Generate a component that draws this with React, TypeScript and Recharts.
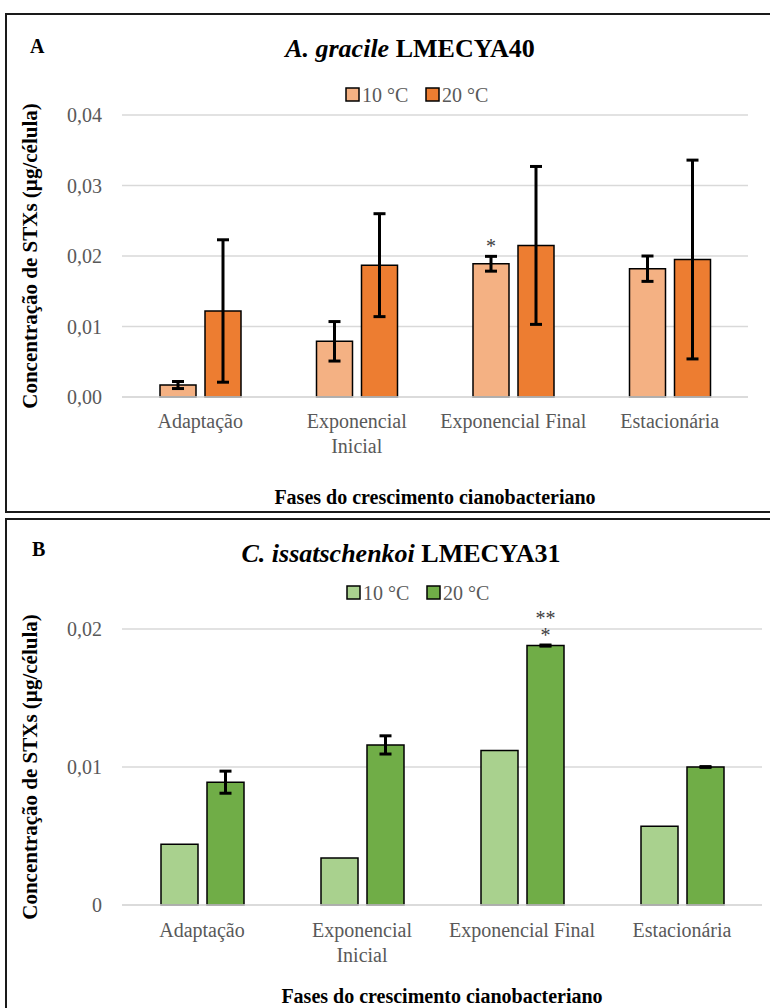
import React from 'react';
import { BarChart, Bar, XAxis, YAxis, CartesianGrid, ErrorBar, LabelList, Label } from 'recharts';

const FONT = "'Liberation Serif', 'Times New Roman', serif";

const categories = ['Adaptação', 'Exponencial Inicial', 'Exponencial Final', 'Estacionária'];
const categoryLines = [['Adaptação'], ['Exponencial', 'Inicial'], ['Exponencial Final'], ['Estacionária']];
const seriesNames = ['10 °C', '20 °C'];

// A. gracile LMECYA40
const gracile10 = [0.0017, 0.0079, 0.0189, 0.0182];
const gracile10Err = [0.0005, 0.0028, 0.00105, 0.0018];
const gracile20 = [0.0122, 0.0187, 0.0215, 0.0195];
const gracile20Err = [0.0101, 0.0073, 0.0112, 0.0141];
const gracileMarks10 = [[], [], ['*'], []];
const gracileTicks = [0, 0.01, 0.02, 0.03, 0.04];

// C. issatschenkoi LMECYA31
const issat10 = [0.0044, 0.0034, 0.0112, 0.0057];
const issat20 = [0.0089, 0.0116, 0.0188, 0.01];
const issat20Err = [0.0008, 0.00066, 0.00004, 0.00003];
const issatMarks20 = [[], [], ['**', '*'], []];
const issatTicks = [0, 0.01, 0.02];

const gracileData = categories.map((name, i) => ({
    name,
    t10: gracile10[i],
    t10Err: gracile10Err[i],
    t20: gracile20[i],
    t20Err: gracile20Err[i],
}));

const issatData = categories.map((name, i) => ({
    name,
    t10: issat10[i],
    t20: issat20[i],
    t20Err: issat20Err[i],
}));

const fmtComma = (v: number) => (v === 0 ? '0' : v.toFixed(2).replace('.', ','));
const fmtFixed = (v: number) => v.toFixed(2).replace('.', ',');

const CategoryTick = (props: any) => {
    const { x, y, payload, firstDy } = props;
    const idx = categories.indexOf(payload.value);
    const lines = categoryLines[idx] || [payload.value];
    return (
        <text x={x} y={y} textAnchor="middle" fill="#595959" fontSize={20} fontFamily={FONT}>
            {lines.map((s, i) => (
                <tspan key={i} x={x} dy={i === 0 ? firstDy : 25}>{s}</tspan>
            ))}
        </text>
    );
};

// significance asterisks drawn above a bar, one line per entry
const makeMarks = (marks: string[][], gap: number) => (props: any) => {
    const { x, y, width, index } = props;
    const lines = marks[index] || [];
    if (!lines.length) return null;
    return (
        <g>
            {lines.map((s, i) => (
                <text
                    key={i}
                    x={x + width / 2}
                    y={y - gap - (lines.length - 1 - i) * 17}
                    textAnchor="middle"
                    fill="#404040"
                    fontSize={20}
                    fontFamily={FONT}
                >
                    {s}
                </text>
            ))}
        </g>
    );
};

const YLabel = (props: any) => {
    const vb = props.viewBox;
    const cx = vb.x + 20;
    const cy = vb.y + vb.height / 2;
    return (
        <text
            transform={`translate(${cx}, ${cy}) rotate(-90)`}
            textAnchor="middle"
            dominantBaseline="central"
            fontSize={21}
            fontWeight="bold"
            fontFamily={FONT}
            fill="#000"
        >
            Concentração de STXs (µg/célula)
        </text>
    );
};

interface PanelProps {
    top: number;
    height: number;
    data: any[];
    colors: string[];
    ticks: number[];
    fmt: (v: number) => string;
    plotTop: number;
    plotBottom: number;
    plotRight: number;
    barSize: number;
    err10: boolean;
    marks10?: string[][];
    marks20?: string[][];
    firstDy: number;
}

function Panel(p: PanelProps) {
    const xAxisHeight = 60;
    const margin = {
        top: p.plotTop - p.top,
        left: 10,
        right: 770 - p.plotRight,
        bottom: p.height - (p.plotBottom - p.top) - xAxisHeight,
    };
    return (
        <div style={{ position: 'absolute', left: 0, top: p.top }}>
            <BarChart width={770} height={p.height} data={p.data} margin={margin} barSize={p.barSize} barGap={9}>
                <CartesianGrid vertical={false} stroke="#D9D9D9" strokeWidth={1.5} />
                <XAxis
                    dataKey="name"
                    height={xAxisHeight}
                    axisLine={{ stroke: '#D9D9D9', strokeWidth: 1.5 }}
                    tickLine={false}
                    tickSize={0}
                    tickMargin={0}
                    interval={0}
                    tick={<CategoryTick firstDy={p.firstDy} />}
                />
                <YAxis
                    width={112}
                    domain={[p.ticks[0], p.ticks[p.ticks.length - 1]]}
                    ticks={p.ticks}
                    tickFormatter={p.fmt}
                    axisLine={false}
                    tickLine={false}
                    tickSize={0}
                    tickMargin={20}
                    tick={{ fill: '#595959', fontSize: 20, fontFamily: FONT }}
                >
                    <Label content={<YLabel />} />
                </YAxis>
                <Bar dataKey="t10" fill={p.colors[0]} stroke="#000" strokeWidth={1.5} isAnimationActive={false}>
                    {p.err10 && (
                        <ErrorBar dataKey="t10Err" direction="y" width={6} strokeWidth={3} stroke="#000" isAnimationActive={false} />
                    )}
                    {p.marks10 && <LabelList dataKey="name" content={makeMarks(p.marks10, 11)} />}
                </Bar>
                <Bar dataKey="t20" fill={p.colors[1]} stroke="#000" strokeWidth={1.5} isAnimationActive={false}>
                    <ErrorBar dataKey="t20Err" direction="y" width={6} strokeWidth={3} stroke="#000" isAnimationActive={false} />
                    {p.marks20 && <LabelList dataKey="name" content={makeMarks(p.marks20, 4)} />}
                </Bar>
            </BarChart>
        </div>
    );
}

const gracileColors = ['#F4B183', '#ED7D31'];
const issatColors = ['#A9D18E', '#70AD47'];

function Legend2({ x, y, colors }: { x: number; y: number; colors: string[] }) {
    return (
        <g>
            {seriesNames.map((name, i) => (
                <g key={name}>
                    <rect x={x + i * 80} y={y - 14} width={13} height={13} fill={colors[i]} stroke="#000" strokeWidth={1.5} />
                    <text x={x + i * 80 + 16} y={y} fontSize={20} fill="#595959" fontFamily={FONT}>{name}</text>
                </g>
            ))}
        </g>
    );
}

export default function App() {
    return (
        <div style={{ position: 'absolute', left: 0, top: 0, width: 770, height: 1008, overflow: 'hidden', background: '#fff' }}>
            <div style={{ position: 'absolute', left: 5, top: 13, width: 800, height: 496, border: '2px solid #1a1a1a' }} />
            <div style={{ position: 'absolute', left: 5, top: 518, width: 800, height: 600, border: '2px solid #1a1a1a' }} />

            <Panel
                top={16}
                height={494}
                data={gracileData}
                colors={gracileColors}
                ticks={gracileTicks}
                fmt={fmtFixed}
                plotTop={115}
                plotBottom={397}
                plotRight={748}
                barSize={36}
                err10={true}
                marks10={gracileMarks10}
                firstDy={31}
            />
            <Panel
                top={521}
                height={487}
                data={issatData}
                colors={issatColors}
                ticks={issatTicks}
                fmt={fmtComma}
                plotTop={629}
                plotBottom={905}
                plotRight={762}
                barSize={37}
                err10={false}
                marks20={issatMarks20}
                firstDy={32}
            />

            <svg width={770} height={1008} style={{ position: 'absolute', left: 0, top: 0, pointerEvents: 'none' }}>
                <text x={30} y={53} fontSize={20} fontWeight="bold" fontFamily={FONT}>A</text>
                <text x={410} y={57} textAnchor="middle" fontSize={26} fontWeight="bold" fontFamily={FONT}>
                    <tspan fontStyle="italic">A. gracile</tspan> LMECYA40
                </text>
                <Legend2 x={346} y={102} colors={gracileColors} />
                <text x={435} y={504} textAnchor="middle" fontSize={20} fontWeight="bold" fontFamily={FONT}>
                    Fases do crescimento cianobacteriano
                </text>

                <text x={32} y={556} fontSize={20} fontWeight="bold" fontFamily={FONT}>B</text>
                <text x={401} y={562} textAnchor="middle" fontSize={26} fontWeight="bold" fontFamily={FONT}>
                    <tspan fontStyle="italic">C. issatschenkoi</tspan> LMECYA31
                </text>
                <Legend2 x={347} y={600} colors={issatColors} />
                <text x={442} y={1003} textAnchor="middle" fontSize={20} fontWeight="bold" fontFamily={FONT}>
                    Fases do crescimento cianobacteriano
                </text>
            </svg>
        </div>
    );
}
